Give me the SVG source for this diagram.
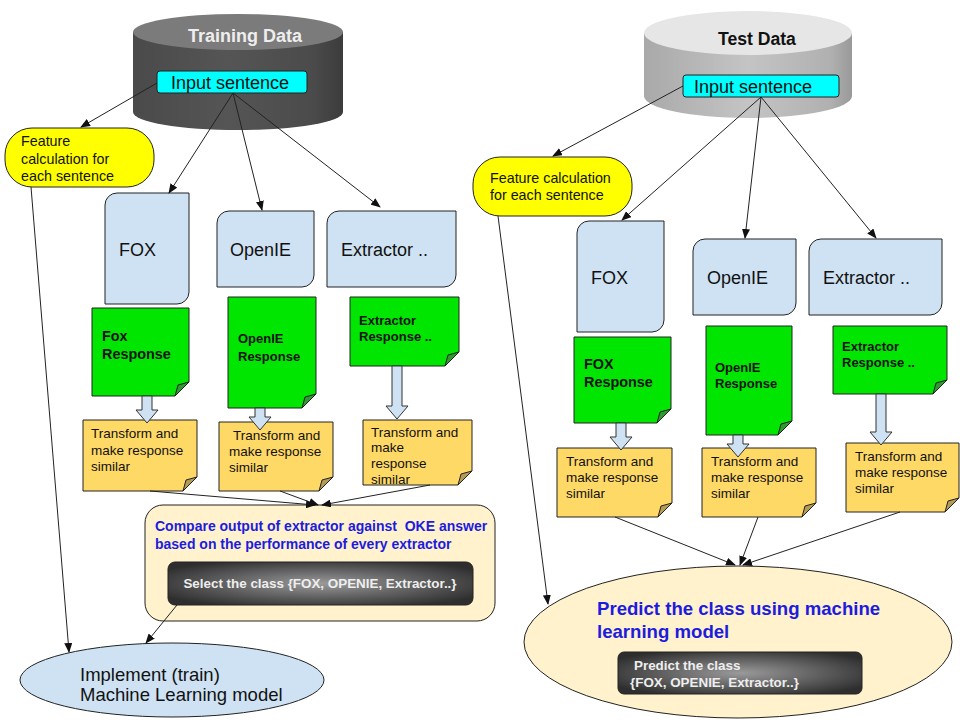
<svg xmlns="http://www.w3.org/2000/svg" width="960" height="720" viewBox="0 0 960 720">
<defs>
<linearGradient id="cylDark" x1="0" x2="1" y1="0" y2="0">
<stop offset="0" stop-color="#4a4a4a"/><stop offset="0.45" stop-color="#555"/><stop offset="0.85" stop-color="#4b4b4b"/><stop offset="1" stop-color="#3c3c3c"/>
</linearGradient>
<linearGradient id="cylLight" x1="0" x2="1" y1="0" y2="0">
<stop offset="0" stop-color="#a9a9a9"/><stop offset="0.5" stop-color="#c4c4c4"/><stop offset="0.9" stop-color="#b0b0b0"/><stop offset="1" stop-color="#999"/>
</linearGradient>
<radialGradient id="darkBox" cx="0.5" cy="0.5" r="0.6">
<stop offset="0" stop-color="#9a9a9a"/><stop offset="1" stop-color="#2e2e2e"/>
</radialGradient>
<marker id="ah" markerWidth="10" markerHeight="8" refX="9" refY="4" orient="auto" markerUnits="userSpaceOnUse">
<path d="M0,0 L10,4 L0,8 Z" fill="#111"/>
</marker>
<style>
text{font-family:"Liberation Sans",Arial,sans-serif}
.ln{stroke:#222;stroke-width:1;fill:none}
.ext{fill:#cfe2f3;stroke:#222;stroke-width:1}
.grn{fill:#00e600;stroke:#222;stroke-width:1}
.gfold{fill:#2f9a2f;stroke:#222;stroke-width:1}
.org{fill:#ffd966;stroke:#222;stroke-width:1}
.ofold{fill:#b59a55;stroke:#222;stroke-width:1}
.barr{fill:#cfe2f3;stroke:#333;stroke-width:1}
.yel{fill:#ffff00;stroke:#222;stroke-width:1}
.inp{fill:#00ffff;stroke:#222;stroke-width:1}
.big{font-size:18px;fill:#111}
.mid{font-size:13.5px;fill:#111}
.feat{font-size:14.3px;fill:#111}
.gtx{font-size:13px;font-weight:bold;fill:#111}
.gtxl{font-size:14.4px;font-weight:bold;fill:#111}
.wtx{font-size:13.4px;font-weight:bold;fill:#eee}
.blue{font-weight:bold;fill:#1c1ce0}
</style>
</defs>

<g id="training-data">
<path d="M133,32 L133,112 A105,18 0 0 0 343,112 L343,32 Z" fill="url(#cylDark)"/>
<ellipse cx="238" cy="32" rx="105" ry="18" fill="#7b7b7b"/>
<text x="188" y="42" font-size="18" font-weight="bold" fill="#eee">Training Data</text>
</g>
<g id="test-data">
<path d="M644,33 L644,96 A104,22 0 0 0 852,96 L852,33 Z" fill="url(#cylLight)"/>
<ellipse cx="748" cy="33" rx="104" ry="22" fill="#e6e6e6"/>
<text x="718" y="45" font-size="17.6" font-weight="bold" fill="#111">Test Data</text>
</g>

<g id="input-left">
<rect x="157" y="71" width="150" height="22" rx="3" class="inp"/>
<text x="171" y="89" font-size="18" fill="#111">Input sentence</text>
</g>
<g id="input-right">
<rect x="683" y="75" width="156" height="22" rx="3" class="inp"/>
<text x="694" y="93" font-size="18" fill="#111">Input sentence</text>
</g>

<g id="feature-left">
<rect x="5" y="128" width="149" height="59" rx="27" class="yel"/>
<text class="feat" x="21" y="146">Feature</text>
<text class="feat" x="21" y="164">calculation for</text>
<text class="feat" x="21" y="181">each sentence</text>
</g>
<g id="feature-right">
<rect x="473" y="157" width="159" height="59" rx="27" class="yel"/>
<text class="feat" x="490" y="183">Feature calculation</text>
<text class="feat" x="490" y="200">for each sentence</text>
</g>

<g id="fox-left">
<path d="M117,193 L189,193 L189,292 A12,12 0 0 1 177,304 L105,304 L105,205 A12,12 0 0 1 117,193 Z" class="ext"/>
<text class="big" x="119" y="256">FOX</text>
</g>
<g id="openie-left">
<path d="M229,211 L314,211 L314,275 A12,12 0 0 1 302,287 L217,287 L217,223 A12,12 0 0 1 229,211 Z" class="ext"/>
<text class="big" x="230" y="256">OpenIE</text>
</g>
<g id="extractor-left">
<path d="M339,211 L456,211 L456,275 A12,12 0 0 1 444,287 L327,287 L327,223 A12,12 0 0 1 339,211 Z" class="ext"/>
<text class="big" x="341" y="256">Extractor ..</text>
</g>
<g id="fox-right">
<path d="M589,221 L664,221 L664,320 A12,12 0 0 1 652,332 L577,332 L577,233 A12,12 0 0 1 589,221 Z" class="ext"/>
<text class="big" x="591" y="284">FOX</text>
</g>
<g id="openie-right">
<path d="M705,239 L796,239 L796,303 A12,12 0 0 1 784,315 L693,315 L693,251 A12,12 0 0 1 705,239 Z" class="ext"/>
<text class="big" x="707" y="284">OpenIE</text>
</g>
<g id="extractor-right">
<path d="M821,239 L942,239 L942,303 A12,12 0 0 1 930,315 L809,315 L809,251 A12,12 0 0 1 821,239 Z" class="ext"/>
<text class="big" x="823" y="284">Extractor ..</text>
</g>

<g id="fox-response-left">
<path d="M92,308 L189,308 L189,382 L175,396 L92,396 Z" class="grn"/>
<path d="M189,382 L175,396 L178,385 Z" class="gfold"/>
<text class="gtxl" x="102" y="341">Fox</text>
<text class="gtxl" x="102" y="359">Response</text>
</g>
<g id="openie-response-left">
<path d="M228,297 L316,297 L316,394 L302,408 L228,408 Z" class="grn"/>
<path d="M316,394 L302,408 L305,397 Z" class="gfold"/>
<text class="gtx" x="238" y="343">OpenIE</text>
<text class="gtx" x="238" y="361">Response</text>
</g>
<g id="extractor-response-left">
<path d="M350,297 L459,297 L459,352 L445,366 L350,366 Z" class="grn"/>
<path d="M459,352 L445,366 L448,355 Z" class="gfold"/>
<text class="gtx" x="359" y="325">Extractor</text>
<text class="gtx" x="359" y="341">Response ..</text>
</g>
<g id="fox-response-right">
<path d="M574,337 L671,337 L671,409 L657,423 L574,423 Z" class="grn"/>
<path d="M671,409 L657,423 L660,412 Z" class="gfold"/>
<text class="gtxl" x="584" y="369">FOX</text>
<text class="gtxl" x="584" y="387">Response</text>
</g>
<g id="openie-response-right">
<path d="M706,326 L792,326 L792,421 L778,435 L706,435 Z" class="grn"/>
<path d="M792,421 L778,435 L781,424 Z" class="gfold"/>
<text class="gtx" x="715" y="372">OpenIE</text>
<text class="gtx" x="715" y="388">Response</text>
</g>
<g id="extractor-response-right">
<path d="M833,326 L947,326 L947,380 L933,394 L833,394 Z" class="grn"/>
<path d="M947,380 L933,394 L936,383 Z" class="gfold"/>
<text class="gtx" x="842" y="351">Extractor</text>
<text class="gtx" x="842" y="367">Response ..</text>
</g>

<g id="transform-left-1">
<path d="M83,420 L197,420 L197,477 L183,491 L83,491 Z" class="org"/>
<path d="M197,477 L183,491 L186,480 Z" class="ofold"/>
<text class="mid" x="91" y="438">Transform and</text>
<text class="mid" x="91" y="455">make response</text>
<text class="mid" x="91" y="471">similar</text>
</g>
<g id="transform-left-2">
<path d="M219,422 L333,422 L333,477 L319,491 L219,491 Z" class="org"/>
<path d="M333,477 L319,491 L322,480 Z" class="ofold"/>
<text class="mid" x="233" y="440">Transform and</text>
<text class="mid" x="229" y="456">make response</text>
<text class="mid" x="229" y="472">similar</text>
</g>
<g id="transform-left-3">
<path d="M363,420 L472,420 L472,471 L458,485 L363,485 Z" class="org"/>
<path d="M472,471 L458,485 L461,474 Z" class="ofold"/>
<text class="mid" x="371" y="437">Transform and</text>
<text class="mid" x="371" y="452">make</text>
<text class="mid" x="371" y="468">response</text>
<text class="mid" x="371" y="484">similar</text>
</g>
<g id="transform-right-1">
<path d="M557,448 L672,448 L672,503 L658,517 L557,517 Z" class="org"/>
<path d="M672,503 L658,517 L661,506 Z" class="ofold"/>
<text class="mid" x="566" y="466">Transform and</text>
<text class="mid" x="566" y="482">make response</text>
<text class="mid" x="566" y="498">similar</text>
</g>
<g id="transform-right-2">
<path d="M702,448 L816,448 L816,503 L802,517 L702,517 Z" class="org"/>
<path d="M816,503 L802,517 L805,506 Z" class="ofold"/>
<text class="mid" x="711" y="466">Transform and</text>
<text class="mid" x="711" y="482">make response</text>
<text class="mid" x="711" y="498">similar</text>
</g>
<g id="transform-right-3">
<path d="M846,443 L959,443 L959,498 L945,512 L846,512 Z" class="org"/>
<path d="M959,498 L945,512 L948,501 Z" class="ofold"/>
<text class="mid" x="855" y="461">Transform and</text>
<text class="mid" x="855" y="477">make response</text>
<text class="mid" x="855" y="493">similar</text>
</g>

<g id="compare">
<rect x="145" y="505" width="350" height="116" rx="18" fill="#fff2cc" stroke="#222" stroke-width="1"/>
<text class="blue" font-size="14" x="155" y="531">Compare output of extractor against&#160; OKE answer</text>
<text class="blue" font-size="14" x="155" y="549">based on the performance of every extractor</text>
<rect x="168" y="562" width="305" height="43" rx="7" fill="url(#darkBox)" stroke="#222" stroke-width="1"/>
<text class="wtx" x="320" y="588" text-anchor="middle">Select the class {FOX, OPENIE, Extractor..}</text>
</g>

<g id="implement">
<ellipse cx="172" cy="680" rx="152" ry="37" fill="#cfe2f3" stroke="#222" stroke-width="1"/>
<text x="80" y="681" font-size="18.5" fill="#111">Implement (train)</text>
<text x="80" y="701" font-size="18.5" fill="#111">Machine Learning model</text>
</g>

<g id="predict">
<ellipse cx="738" cy="642" rx="214" ry="76" fill="#fff2cc" stroke="#222" stroke-width="1"/>
<text class="blue" font-size="18.6" x="597" y="615">Predict the class using machine</text>
<text class="blue" font-size="18.6" x="597" y="638">learning model</text>
<rect x="618" y="652" width="244" height="42" rx="6" fill="url(#darkBox)" stroke="#222" stroke-width="1"/>
<text class="wtx" x="634" y="670">Predict the class</text>
<text class="wtx" x="630" y="687">{FOX, OPENIE, Extractor..}</text>
</g>

<g id="block-arrows">
<path d="M142,396 L152,396 L152,410 L158,410 L147,423 L136,410 L142,410 Z" class="barr"/>
<path d="M255,408 L265,408 L265,417 L271,417 L260,430 L249,417 L255,417 Z" class="barr"/>
<path d="M392,366 L402,366 L402,406 L408,406 L397,419 L386,406 L392,406 Z" class="barr"/>
<path d="M616,423 L626,423 L626,437 L632,437 L621,450 L610,437 L616,437 Z" class="barr"/>
<path d="M733,435 L743,435 L743,444 L749,444 L738,457 L727,444 L733,444 Z" class="barr"/>
<path d="M876,394 L886,394 L886,432 L892,432 L881,445 L870,432 L876,432 Z" class="barr"/>
</g>

<g id="connectors">
<line class="ln" x1="157" y1="83" x2="81" y2="127" marker-end="url(#ah)"/>
<line class="ln" x1="233" y1="93" x2="169" y2="193" marker-end="url(#ah)"/>
<line class="ln" x1="233" y1="93" x2="262" y2="210" marker-end="url(#ah)"/>
<line class="ln" x1="233" y1="93" x2="380" y2="207" marker-end="url(#ah)"/>
<line class="ln" x1="683" y1="86" x2="553" y2="156" marker-end="url(#ah)"/>
<line class="ln" x1="761" y1="97" x2="622" y2="220" marker-end="url(#ah)"/>
<line class="ln" x1="761" y1="97" x2="745" y2="238" marker-end="url(#ah)"/>
<line class="ln" x1="761" y1="97" x2="876" y2="238" marker-end="url(#ah)"/>
<line class="ln" x1="150" y1="491" x2="315" y2="505" marker-end="url(#ah)"/>
<line class="ln" x1="280" y1="491" x2="318" y2="505" marker-end="url(#ah)"/>
<line class="ln" x1="430" y1="485" x2="322" y2="505" marker-end="url(#ah)"/>
<line class="ln" x1="615" y1="517" x2="735" y2="565" marker-end="url(#ah)"/>
<line class="ln" x1="758" y1="517" x2="740" y2="565" marker-end="url(#ah)"/>
<line class="ln" x1="900" y1="512" x2="743" y2="565" marker-end="url(#ah)"/>
<line class="ln" x1="31" y1="187" x2="69" y2="652" marker-end="url(#ah)"/>
<line class="ln" x1="177" y1="605" x2="146" y2="643" marker-end="url(#ah)"/>
<line class="ln" x1="498" y1="216" x2="548" y2="604" marker-end="url(#ah)"/>
</g>
</svg>
